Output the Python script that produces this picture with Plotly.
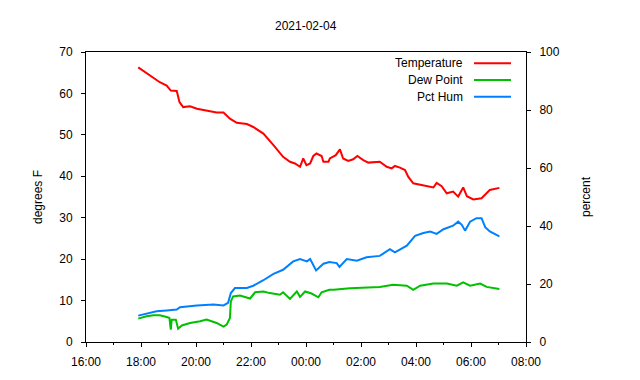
import plotly.graph_objects as go

D1 = "2021-02-04 "
D2 = "2021-02-05 "

temp_time = ["17:54", "18:20", "18:41", "18:56", "19:05", "19:18", "19:24", "19:32", "19:47", "20:02",
             "20:23", "20:45", "21:00", "21:14", "21:29", "21:51", "22:05", "22:27", "22:49", "23:10",
             "23:25", "23:36", "23:47", "23:54", "00:01", "00:09", "00:16", "00:23", "00:34", "00:38",
             "00:49", "00:52", "01:05", "01:14", "01:21", "01:32", "01:43", "01:52", "02:05", "02:16",
             "02:41", "02:56", "03:07", "03:14", "03:25", "03:36", "03:43", "03:54", "04:12", "04:27",
             "04:38", "04:45", "04:56", "05:07", "05:21", "05:32", "05:43", "05:51", "06:05", "06:23",
             "06:31", "06:41", "07:02"]
temp_vals = [66.3, 64.3, 62.7, 61.9, 60.7, 60.6, 57.9, 56.7, 56.9, 56.3,
             55.9, 55.4, 55.4, 53.9, 52.9, 52.6, 51.9, 50.3, 47.5, 44.7,
             43.5, 43.1, 42.3, 44.3, 42.7, 43.1, 44.9, 45.5, 44.9, 43.5,
             43.5, 44.3, 45.1, 46.5, 44.3, 43.7, 44.1, 44.9, 43.9, 43.3,
             43.5, 42.3, 41.9, 42.5, 42.1, 41.5, 39.9, 38.3, 37.9, 37.5,
             37.3, 38.4, 37.6, 35.9, 36.3, 35.1, 37.3, 35.2, 34.4, 34.7,
             35.7, 36.7, 37.2]

dew_time = ["17:54", "18:12", "18:27", "18:41", "18:56", "19:02", "19:05", "19:07", "19:16", "19:21",
            "19:29", "19:47", "20:09", "20:23", "20:45", "21:00", "21:07", "21:14", "21:16", "21:21",
            "21:36", "21:58", "22:09", "22:27", "22:41", "23:03", "23:10", "23:25", "23:40", "23:47",
            "23:58", "00:12", "00:27", "00:34", "00:51", "01:00", "01:36", "02:12", "02:41", "03:10",
            "03:40", "03:54", "04:09", "04:38", "05:07", "05:29", "05:43", "05:58", "06:20", "06:34",
            "07:02"]
dew_vals = [5.65, 6.2, 6.45, 6.45, 6.05, 5.8, 3.0, 5.4, 5.4, 3.2,
            4.0, 4.6, 5.0, 5.4, 4.6, 3.7, 4.2, 5.8, 9.8, 11.0,
            11.2, 10.5, 12.0, 12.2, 11.8, 11.4, 12.0, 10.4, 12.2, 10.9,
            12.2, 11.7, 10.8, 12.0, 12.6, 12.6, 13.0, 13.2, 13.3, 13.8,
            13.6, 12.6, 13.6, 14.1, 14.1, 13.6, 14.4, 13.6, 14.1, 13.3,
            12.8]

hum_time = ["17:54", "18:12", "18:34", "18:56", "19:18", "19:25", "19:40", "20:02", "20:38", "21:00",
            "21:10", "21:16", "21:25", "21:51", "22:05", "22:27", "22:49", "23:10", "23:32", "23:47",
            "00:02", "00:09", "00:22", "00:38", "00:51", "01:07", "01:13", "01:29", "01:51", "02:12",
            "02:41", "03:03", "03:14", "03:40", "03:58", "04:16", "04:31", "04:45", "05:00", "05:21",
            "05:32", "05:40", "05:47", "05:58", "06:12", "06:23", "06:31", "06:41", "07:02"]
hum_vals = [9.1, 9.7, 10.6, 10.9, 11.2, 12.0, 12.3, 12.6, 12.9, 12.6,
            13.5, 16.9, 18.6, 18.6, 19.4, 21.3, 23.5, 24.9, 27.8, 28.6,
            27.8, 28.6, 24.7, 27.0, 27.6, 27.2, 25.9, 28.6, 28.0, 29.2,
            29.7, 32.0, 30.9, 33.2, 36.6, 37.6, 38.1, 37.3, 38.9, 40.1,
            41.5, 40.4, 38.4, 41.5, 42.7, 42.7, 39.6, 38.1, 36.4]

x_ticks = ["16:00", "18:00", "20:00", "22:00", "00:00", "02:00", "04:00", "06:00", "08:00"]


def stamps(times):
    out = []
    for t in times:
        h = int(t[:2])
        out.append((D1 if h >= 12 else D2) + t)
    return out


tick_vals = stamps(x_ticks)

FONT = "Liberation Sans, Arial, sans-serif"
RED, GREEN, BLUE = "#ff0000", "#00c000", "#0080ff"

fig = go.Figure()
fig.add_trace(go.Scatter(x=stamps(temp_time), y=temp_vals, mode="lines", name="Temperature",
                         line=dict(color=RED, width=2), yaxis="y"))
fig.add_trace(go.Scatter(x=stamps(dew_time), y=dew_vals, mode="lines", name="Dew Point",
                         line=dict(color=GREEN, width=2), yaxis="y"))
fig.add_trace(go.Scatter(x=stamps(hum_time), y=hum_vals, mode="lines", name="Pct Hum",
                         line=dict(color=BLUE, width=2), yaxis="y2"))

W, H = 640, 380
L, R, T, B = 86, 114, 52, 38
pw, ph = W - L - R, H - T - B

def px(xp):
    return (xp - L) / pw

def py(yp):
    return (H - B - yp) / ph

annotations = [dict(text="2021-02-04", x=0.5, y=py(26), xref="paper", yref="paper",
                    showarrow=False, font=dict(size=12, color="black", family=FONT),
                    xanchor="center", yanchor="middle")]
shapes = []
for i, (name, col) in enumerate([("Temperature", RED), ("Dew Point", GREEN), ("Pct Hum", BLUE)]):
    yy = 63.3 + i * 16.7
    annotations.append(dict(text=name, x=px(465), y=py(yy), xref="paper", yref="paper",
                            showarrow=False, xanchor="right", yanchor="middle",
                            font=dict(size=12, color="black", family=FONT)))
    shapes.append(dict(type="line", xref="paper", yref="paper", x0=px(474), x1=px(511),
                       y0=py(yy), y1=py(yy), line=dict(color=col, width=2)))

fig.update_layout(
    width=W, height=H,
    margin=dict(l=L, r=R, t=T, b=B, pad=0),
    paper_bgcolor="white", plot_bgcolor="white",
    showlegend=False,
    font=dict(family=FONT, size=12, color="black"),
    annotations=annotations,
    shapes=shapes,
    xaxis=dict(type="date", range=[D1 + "16:00", D2 + "08:00"],
               tickvals=tick_vals, ticktext=x_ticks, automargin=False,
               showgrid=False, zeroline=False,
               showline=True, linecolor="black", linewidth=1, mirror=True,
               ticks="outside", ticklen=4, tickcolor="black",
               minor=dict(ticks="outside", ticklen=2, tickcolor="black", dtick=3600000,
                          showgrid=False),
               ticklabelstandoff=5),
    yaxis=dict(range=[0, 70], tickvals=[0, 10, 20, 30, 40, 50, 60, 70], automargin=False,
               showgrid=False, zeroline=False,
               showline=True, linecolor="black", linewidth=1,
               ticks="outside", ticklen=4, tickcolor="black",
               title=dict(text="degrees F", standoff=14, font=dict(size=12)),
               ticklabelstandoff=6),
    yaxis2=dict(range=[0, 100], tickvals=[0, 20, 40, 60, 80, 100], overlaying="y", side="right",
                automargin=False,
                showgrid=False, zeroline=False,
                showline=True, linecolor="black", linewidth=1,
                ticks="outside", ticklen=4, tickcolor="black",
                title=dict(text="percent", standoff=22, font=dict(size=12)),
                ticklabelstandoff=6),
)

fig.write_html("out.html", config={"displayModeBar": False},
               post_script="document.body.style.margin='0';")
